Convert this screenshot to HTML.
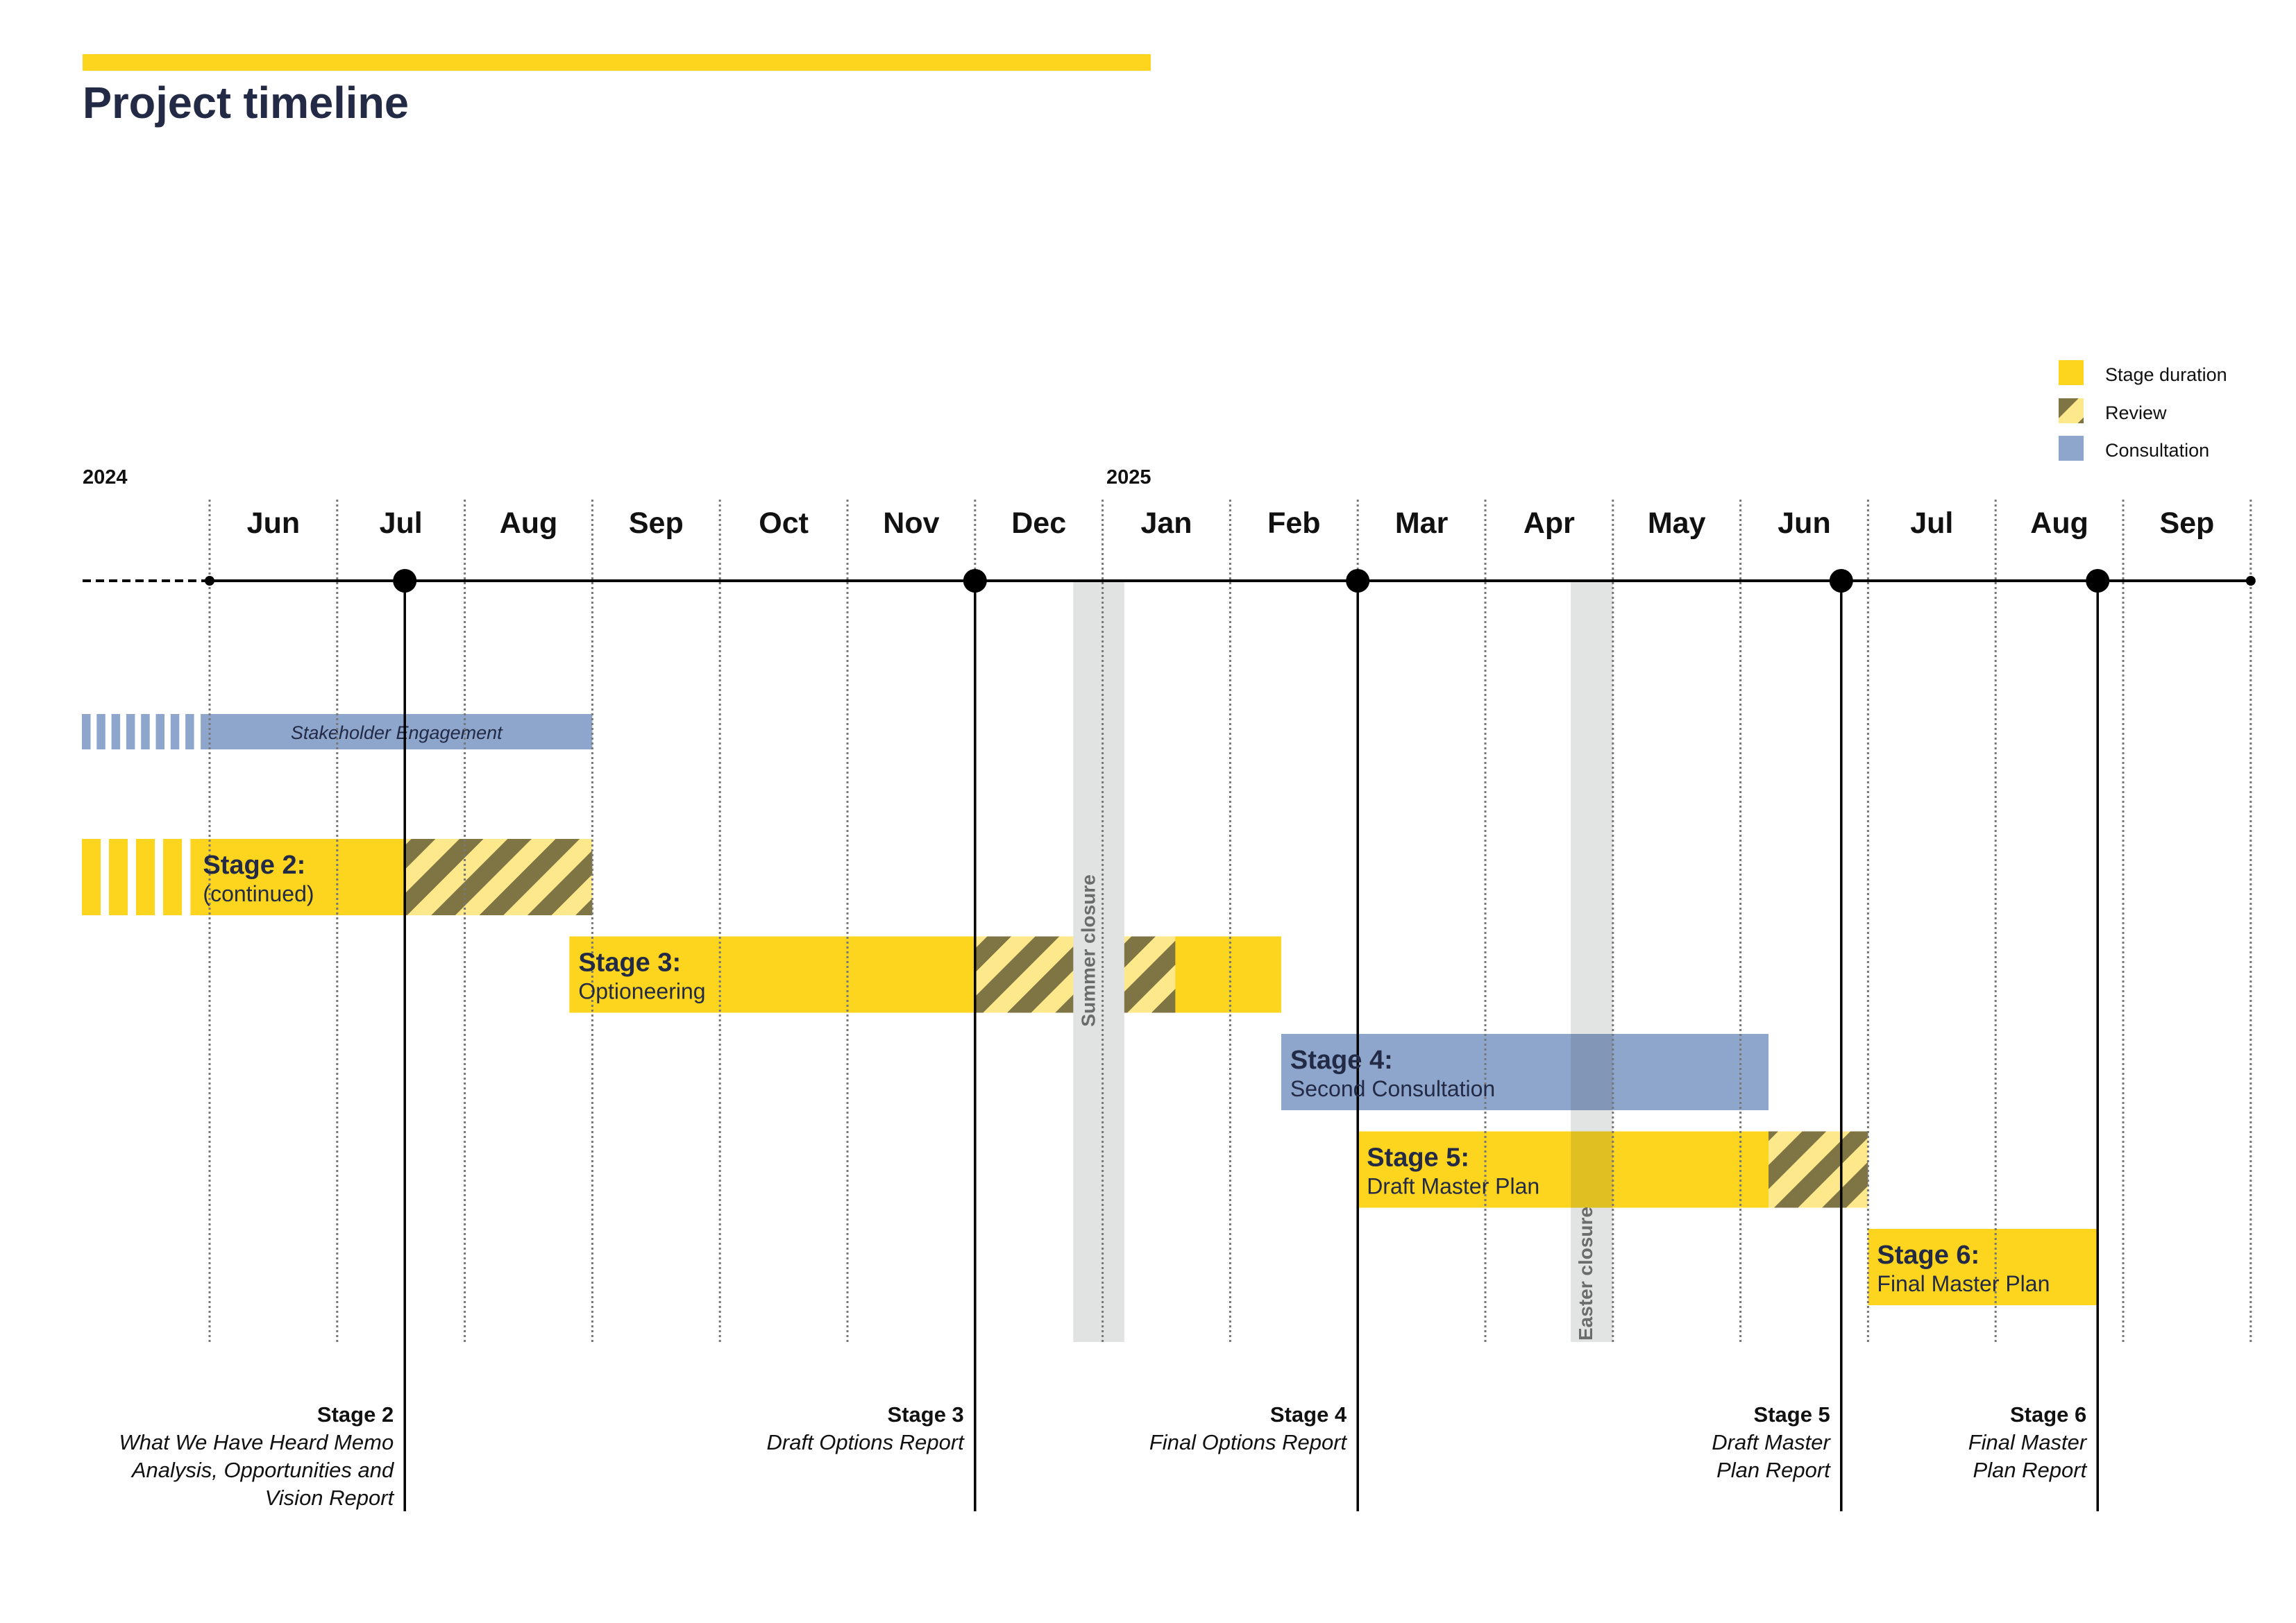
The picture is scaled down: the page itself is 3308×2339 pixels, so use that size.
<!DOCTYPE html>
<html><head><meta charset="utf-8">
<style>
html,body{margin:0;padding:0;background:#fff;}
svg{display:block;font-family:"Liberation Sans",sans-serif;}
</style></head>
<body>
<svg id="chart" width="3308" height="2339" viewBox="0 0 3308 2339" xmlns="http://www.w3.org/2000/svg">
<defs>
<pattern id="hatch" patternUnits="userSpaceOnUse" width="49" height="20" patternTransform="rotate(45)">
<rect width="49" height="20" fill="#fde98c"/>
<rect width="24.5" height="20" fill="#7f7443"/>
</pattern>
</defs>
<rect x="119" y="78" width="1539" height="24" fill="#fdd51e"/>
<text x="119" y="170" font-size="64" font-weight="bold" fill="#222a45" textLength="470" lengthAdjust="spacingAndGlyphs">Project timeline</text>
<g id="legend">
<rect x="2966" y="519" width="36" height="36" fill="#fdd51e"/>
<text x="3033" y="549" font-size="27" fill="#111">Stage duration</text>
<rect x="2966" y="574" width="36" height="36" fill="url(#hatch)"/>
<text x="3033" y="604" font-size="27" fill="#111">Review</text>
<rect x="2966" y="628" width="36" height="36" fill="#8fa6cc"/>
<text x="3033" y="658" font-size="27" fill="#111">Consultation</text>
</g>
<text x="119" y="697" font-size="29" font-weight="bold" fill="#111">2024</text>
<text x="1594" y="697" font-size="29" font-weight="bold" fill="#111">2025</text>
<g id="layer-bars"></g>
<g id="layer-closures"></g>
<g id="layer-grid"></g>
<g id="layer-axis"></g>
<g id="layer-labels"></g>
</svg>
<script>
const months = ["Jun","Jul","Aug","Sep","Oct","Nov","Dec","Jan","Feb","Mar","Apr","May","Jun","Jul","Aug","Sep"];
const milestoneMonths = [1.53, 6.0, 9.0, 12.79, 14.8];
const milestoneTitles = ["Stage 2","Stage 3","Stage 4","Stage 5","Stage 6"];
const milestoneLines = [["What We Have Heard Memo","Analysis, Opportunities and","Vision Report"],["Draft Options Report"],["Final Options Report"],["Draft Master","Plan Report"],["Final Master","Plan Report"]];
const stageNames = ["Stage 2:","Stage 3:","Stage 4:","Stage 5:","Stage 6:"];
const stageSubs = ["(continued)","Optioneering","Second Consultation","Draft Master Plan","Final Master Plan"];
const stageStarts = [-0.15, 2.82, 8.4, 9.0, 13.0];
const stageEnds = [3.0, 8.4, 12.22, 13.0, 14.8];
const reviewStarts = [1.52, 6.0, null, 12.22, null];
const reviewEnds = [3.0, 7.57, null, 13.0, null];
const stageTypes = ["stage","stage","consult","stage","stage"];
const engagementStart = -0.07;
const engagementEnd = 3.0;
const closureNames = ["Summer closure","Easter closure"];
const closureStarts = [6.77, 10.67];
const closureEnds = [7.17, 11.0];

const X0 = 302, MW = 183.8, AXIS_Y = 837, GRID_TOP = 720, GRID_BOT = 1934;
const ROW0 = 1209, ROWSTEP = 140.5, BARH = 110;
function x(m){ return X0 + m*MW; }
function rowY(i){ return ROW0 + i*ROWSTEP; }
const NS = "http://www.w3.org/2000/svg";
function mk(tag, attrs, parent){ const e=document.createElementNS(NS,tag); for(const k in attrs) e.setAttribute(k,attrs[k]); parent.appendChild(e); return e; }

const gBars = document.getElementById("layer-bars");
const gClos = document.getElementById("layer-closures");
const gGrid = document.getElementById("layer-grid");
const gAxis = document.getElementById("layer-axis");
const gLab = document.getElementById("layer-labels");

// engagement bar
const engY = 1029, engH = 51;
for(let i=0;i<8;i++){
  const s = mk("rect",{x:118+i*21.3,y:engY,width:12.5,height:engH,fill:"#8fa6cc"},gBars);
  
  
}
const eb = mk("rect",{x:x(engagementStart),y:engY,width:x(engagementEnd)-x(engagementStart),height:engH,fill:"#8fa6cc"},gBars);


const et = mk("text",{x:(x(engagementStart)+x(engagementEnd))/2,y:engY+36,"font-size":27,"font-style":"italic","text-anchor":"middle",fill:"#222a45"},gBars);
et.textContent = "Stakeholder Engagement";



// stage 2 lead stripes
for(let i=0;i<4;i++){
  const s = mk("rect",{x:118+i*39,y:rowY(0),width:27,height:BARH,fill:"#fdd51e"},gBars);
  
  
}
// stages
for(let i=0;i<stageNames.length;i++){
  const y = rowY(i);
  const col = stageTypes[i]==="consult" ? "#8fa6cc" : "#fdd51e";
  const b = mk("rect",{x:x(stageStarts[i]),y:y,width:x(stageEnds[i])-x(stageStarts[i]),height:BARH,fill:col},gBars);
  
  
  if(reviewStarts[i]!==null){
    const r = mk("rect",{x:x(reviewStarts[i]),y:y,width:x(reviewEnds[i])-x(reviewStarts[i]),height:BARH,fill:"url(#hatch)"},gBars);
    
    
  }
  const lx = x(stageStarts[i]) + (i===0 ? 18 : 13);
  const t1 = mk("text",{x:lx,y:y+50,"font-size":38,"font-weight":"bold",fill:"#222a45"},gLab);
  t1.textContent = stageNames[i];
  
  
  const t2 = mk("text",{x:lx,y:y+90,"font-size":32,fill:"#222a45"},gLab);
  t2.textContent = stageSubs[i];
  
  
}
// closures
for(let i=0;i<closureNames.length;i++){
  const fill = i===0 ? "#e1e3e3" : "rgba(60,70,70,0.15)";
  const c = mk("rect",{x:x(closureStarts[i]),y:AXIS_Y,width:x(closureEnds[i])-x(closureStarts[i]),height:GRID_BOT-AXIS_Y,fill:fill},gClos);
  
  
  const cx = x(closureStarts[i]) + 21;
  const cy = i===0 ? 1370 : 1932;
  const t = mk("text",{x:0,y:0,transform:`translate(${cx+10},${cy}) rotate(-90)`,"font-size":28,"font-weight":"bold",fill:"#6b6b6b","text-anchor":i===0?"middle":"start"},gClos);
  t.textContent = closureNames[i];
  
  
}
// grid + month labels
for(let i=0;i<=months.length;i++){
  const l = mk("line",{x1:x(i),x2:x(i),y1:GRID_TOP,y2:GRID_BOT,stroke:"#777","stroke-width":3,"stroke-dasharray":"3,4"},gGrid);
  
  
}
for(let i=0;i<months.length;i++){
  const t = mk("text",{x:x(i+0.5),y:768,"font-size":43,"font-weight":"bold","text-anchor":"middle",fill:"#111"},gGrid);
  t.textContent = months[i];
  
  
}
// axis
const dash = mk("line",{x1:119,x2:x(0),y1:AXIS_Y,y2:AXIS_Y,stroke:"#000","stroke-width":4,"stroke-dasharray":"12,7"},gAxis);


const ax = mk("line",{x1:x(0),x2:x(months.length),y1:AXIS_Y,y2:AXIS_Y,stroke:"#000","stroke-width":4},gAxis);


for(const m of [0, months.length]){
  const d = mk("circle",{cx:x(m),cy:AXIS_Y,r:7,fill:"#000"},gAxis);
  
  
}
for(let i=0;i<milestoneMonths.length;i++){
  const mx = x(milestoneMonths[i]);
  const l = mk("line",{x1:mx,x2:mx,y1:AXIS_Y,y2:2178,stroke:"#000","stroke-width":3.5},gAxis);
  
  
  const c = mk("circle",{cx:mx,cy:AXIS_Y,r:17,fill:"#000"},gAxis);
  
  
  const t = mk("text",{x:mx-16,y:2049,"font-size":31,"font-weight":"bold","text-anchor":"end",fill:"#111"},gLab);
  t.textContent = milestoneTitles[i];
  
  
  milestoneLines[i].forEach((s,j)=>{
    const tt = mk("text",{x:mx-16,y:2089+j*40,"font-size":31,"font-style":"italic","text-anchor":"end",fill:"#111"},gLab);
    tt.textContent = s;
    
    
  });
}
</script>
</body></html>
